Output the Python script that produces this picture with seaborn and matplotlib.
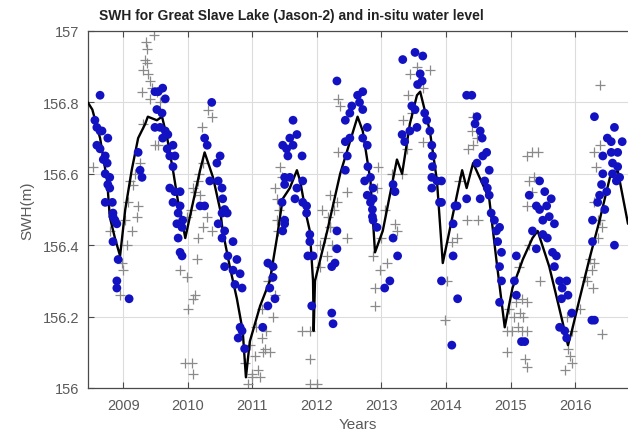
import numpy as np
import pandas as pd
import matplotlib
matplotlib.use("Agg")
import matplotlib.pyplot as plt
import seaborn as sns

# ---------------- data ----------------
# Jason-2 SWH (blue dots)
jason_t = [2008.64, 2008.56, 2008.59, 2008.64, 2008.67, 2008.76, 2008.59, 2008.64, 2008.72, 2008.69,
           2008.75, 2008.72, 2008.79, 2008.76, 2008.79, 2008.72, 2008.83, 2008.84, 2008.87, 2008.84,
           2008.90, 2008.84, 2008.92, 2008.90, 2008.90, 2009.09,
           2009.49, 2009.54, 2009.61, 2009.65, 2009.52, 2009.60, 2009.49, 2009.57, 2009.65, 2009.69,
           2009.61, 2009.68, 2009.77, 2009.72, 2009.80, 2009.77, 2009.23, 2009.26, 2009.29, 2009.72,
           2009.80, 2009.88, 2009.77, 2009.88, 2009.85, 2009.92, 2009.83, 2009.91, 2009.85, 2009.91,
           2009.88,
           2010.37, 2010.26, 2010.30, 2010.50, 2010.45, 2010.47, 2010.34, 2010.53, 2010.54, 2010.61,
           2010.53, 2010.19, 2010.26, 2010.57, 2010.47, 2010.57, 2010.53, 2010.70, 2010.62, 2010.76,
           2010.57, 2010.70, 2010.81, 2010.73, 2010.84, 2010.81, 2010.84, 2010.78, 2010.88,
           2011.24, 2011.32, 2011.32, 2011.27, 2011.35, 2011.24, 2011.16, 2011.47, 2011.50, 2011.63,
           2011.69, 2011.58, 2011.47, 2011.53, 2011.63, 2011.77, 2011.55, 2011.50, 2011.58, 2011.78,
           2011.50, 2011.69, 2011.66, 2011.46, 2011.78, 2011.84, 2011.50, 2011.84, 2011.89, 2011.89,
           2011.86, 2011.94, 2011.92,
           2012.31, 2012.31, 2012.28, 2012.23, 2012.23, 2012.25, 2012.31, 2012.63, 2012.71, 2012.54,
           2012.66, 2012.51, 2012.71, 2012.44, 2012.78, 2012.51, 2012.71, 2012.44, 2012.78, 2012.47,
           2012.79, 2012.44, 2012.83, 2012.74, 2012.87, 2012.78, 2012.87, 2012.86, 2012.87, 2012.83,
           2012.86, 2012.93, 2013.18, 2013.25, 2013.13, 2013.05,
           2013.33, 2013.52, 2013.64, 2013.60, 2013.63, 2013.56, 2013.47, 2013.52, 2013.67, 2013.70,
           2013.75, 2013.55, 2013.44, 2013.32, 2013.36, 2013.78, 2013.79, 2013.79, 2013.78, 2013.86,
           2013.78, 2013.90, 2013.18, 2013.21, 2013.93, 2013.93, 2014.11, 2014.14, 2014.11, 2013.93,
           2014.18, 2014.09,
           2014.32, 2014.40, 2014.48, 2014.45, 2014.53, 2014.56, 2014.63, 2014.57, 2014.48, 2014.67,
           2014.60, 2014.64, 2014.53, 2014.32, 2014.67, 2014.17, 2014.70, 2014.75, 2014.83, 2014.78,
           2014.80, 2014.86, 2014.83, 2014.86, 2014.83, 2015.09, 2015.06, 2015.09, 2015.17, 2015.22,
           2015.45, 2015.53, 2015.29, 2015.63, 2015.40, 2015.56, 2015.45, 2015.60, 2015.68, 2015.50,
           2015.34, 2015.50, 2015.57, 2015.40, 2015.65, 2015.71, 2015.68, 2015.76, 2015.87, 2015.80,
           2015.89, 2015.79, 2015.95, 2015.76, 2015.84, 2015.87,
           2016.30, 2016.61, 2016.50, 2016.56, 2016.73, 2016.43, 2016.56, 2016.66, 2016.58, 2016.66,
           2016.43, 2016.58, 2016.69, 2016.41, 2016.64, 2016.49, 2016.38, 2016.35, 2016.46, 2016.27,
           2016.27, 2016.61, 2016.30, 2016.26]
jason_h = [156.82, 156.75, 156.73, 156.72, 156.72, 156.70, 156.68, 156.67, 156.65, 156.64,
           156.63, 156.60, 156.59, 156.57, 156.56, 156.52, 156.52, 156.49, 156.47, 156.48,
           156.46, 156.41, 156.36, 156.30, 156.28, 156.25,
           156.83, 156.83, 156.84, 156.81, 156.78, 156.77, 156.73, 156.73, 156.72, 156.71,
           156.70, 156.67, 156.68, 156.65, 156.65, 156.62, 156.66, 156.61, 156.59, 156.56,
           156.55, 156.55, 156.52, 156.51, 156.49, 156.47, 156.46, 156.45, 156.42, 156.37,
           156.38,
           156.80, 156.70, 156.68, 156.65, 156.63, 156.58, 156.58, 156.56, 156.53, 156.49,
           156.49, 156.51, 156.51, 156.50, 156.46, 156.44, 156.42, 156.41, 156.37, 156.36,
           156.34, 156.33, 156.32, 156.29, 156.28, 156.17, 156.16, 156.14, 156.11,
           156.35, 156.34, 156.31, 156.28, 156.25, 156.23, 156.17, 156.44, 156.46, 156.75,
           156.71, 156.70, 156.68, 156.67, 156.68, 156.65, 156.65, 156.59, 156.59, 156.58,
           156.57, 156.56, 156.53, 156.52, 156.52, 156.49, 156.47, 156.51, 156.43, 156.41,
           156.37, 156.37, 156.23,
           156.44, 156.39, 156.35, 156.34, 156.21, 156.18, 156.86, 156.82, 156.83, 156.79,
           156.80, 156.77, 156.78, 156.75, 156.73, 156.70, 156.70, 156.69, 156.68, 156.65,
           156.62, 156.61, 156.59, 156.58, 156.56, 156.54, 156.53, 156.50, 156.47, 156.52,
           156.48, 156.45, 156.42, 156.37, 156.30, 156.28,
           156.92, 156.94, 156.93, 156.88, 156.86, 156.85, 156.79, 156.78, 156.77, 156.75,
           156.72, 156.73, 156.72, 156.71, 156.69, 156.68, 156.65, 156.62, 156.59, 156.58,
           156.56, 156.52, 156.57, 156.55, 156.58, 156.52, 156.46, 156.51, 156.37, 156.30,
           156.25, 156.12,
           156.82, 156.82, 156.76, 156.74, 156.72, 156.70, 156.66, 156.65, 156.63, 156.61,
           156.58, 156.56, 156.53, 156.53, 156.54, 156.51, 156.49, 156.47, 156.45, 156.44,
           156.41, 156.38, 156.34, 156.30, 156.24, 156.37, 156.30, 156.26, 156.13, 156.13,
           156.58, 156.55, 156.54, 156.53, 156.51, 156.51, 156.50, 156.48, 156.46, 156.47,
           156.44, 156.43, 156.42, 156.39, 156.38, 156.37, 156.34, 156.30, 156.30, 156.28,
           156.26, 156.25, 156.21, 156.17, 156.16, 156.14,
           156.76, 156.73, 156.70, 156.69, 156.69, 156.65, 156.66, 156.66, 156.63, 156.62,
           156.60, 156.60, 156.59, 156.57, 156.58, 156.55, 156.54, 156.52, 156.50, 156.47,
           156.41, 156.40, 156.19, 156.19]

# gray crosses
cross_t = [2008.53, 2008.79, 2009.13, 2009.06, 2008.98, 2009.00, 2008.95, 2009.21, 2009.23, 2009.10,
           2009.18, 2009.26, 2009.48, 2009.35, 2009.37, 2009.34, 2009.37, 2009.30, 2009.38, 2009.29,
           2009.41, 2009.44, 2009.52, 2009.54, 2009.49, 2009.57, 2009.30, 2009.41,
           2009.96, 2010.06, 2010.08, 2010.00, 2010.08, 2010.11, 2009.88, 2009.99, 2010.14, 2010.16,
           2010.37, 2010.30, 2010.23, 2010.22, 2010.31, 2010.37, 2010.23, 2010.16, 2010.08, 2010.19,
           2009.99,
           2011.16, 2011.27, 2011.08, 2011.00, 2011.32, 2011.35, 2011.30, 2011.39, 2011.47, 2010.96,
           2011.04, 2011.15, 2011.19, 2010.99, 2010.93, 2011.12, 2011.21, 2010.88,
           2011.43, 2011.46, 2011.35, 2011.38, 2011.38, 2011.77, 2011.89, 2011.89, 2011.89, 2012.00,
           2012.08, 2012.17, 2012.20, 2012.12, 2012.16, 2012.04, 2012.47, 2012.23,
           2012.33, 2012.36, 2012.33, 2012.20, 2012.47, 2012.95, 2012.93, 2012.87, 2012.90, 2012.90,
           2012.98, 2013.09, 2013.21, 2013.24, 2013.32, 2013.39, 2013.33, 2013.64, 2013.41, 2013.44,
           2013.55, 2013.64, 2013.75,
           2014.42, 2014.40, 2014.48, 2014.34, 2014.42, 2014.32, 2014.49, 2014.09, 2014.17, 2013.98,
           2014.01,
           2014.94, 2014.95, 2015.09, 2015.14, 2015.06, 2015.19, 2015.11, 2015.25, 2015.22, 2015.25,
           2015.02, 2015.17, 2015.26, 2015.17, 2015.45, 2015.34, 2015.42, 2015.26, 2015.37, 2015.29,
           2015.34, 2015.26,
           2015.89, 2015.92, 2015.84, 2015.95, 2015.87, 2015.95, 2016.18, 2016.26, 2016.27, 2016.30,
           2016.41, 2016.35, 2016.41, 2016.38, 2016.30, 2016.33, 2016.38, 2016.30, 2016.38,
           # crosses lying along the rising limbs of the in-situ curve
           2009.07, 2009.15, 2009.03, 2010.11, 2010.17, 2010.05, 2011.15, 2011.24, 2011.41, 2011.05,
           2012.05, 2012.21, 2012.31, 2012.27, 2013.00, 2013.06, 2013.17, 2014.98, 2015.13, 2015.28,
           2016.07, 2016.15, 2016.23, 2016.35, 2013.48, 2014.20]
cross_h = [156.62, 156.44, 156.44, 156.40, 156.35, 156.33, 156.26, 156.48, 156.51, 156.58,
           156.60, 156.63, 156.99, 156.97, 156.95, 156.92, 156.91, 156.89, 156.88, 156.83,
           156.86, 156.84, 156.83, 156.68, 156.68, 156.80, 156.74, 156.81,
           156.07, 156.07, 156.04, 156.22, 156.25, 156.26, 156.33, 156.31, 156.36, 156.42,
           156.44, 156.48, 156.45, 156.73, 156.78, 156.76, 156.63, 156.58, 156.56, 156.54,
           156.48,
           156.10, 156.10, 156.05, 156.03, 156.20, 156.26, 156.34, 156.44, 156.47, 156.12,
           156.09, 156.14, 156.11, 156.04, 156.01, 156.03, 156.16, 156.07,
           156.62, 156.59, 156.56, 156.53, 156.47, 156.16, 156.16, 156.08, 156.01, 156.01,
           156.50, 156.48, 156.45, 156.42, 156.37, 156.34, 156.42, 156.40,
           156.81, 156.79, 156.66, 156.54, 156.55, 156.62, 156.56, 156.37, 156.28, 156.23,
           156.33, 156.35, 156.46, 156.44, 156.60, 156.67, 156.75, 156.69, 156.82, 156.88,
           156.90, 156.84, 156.89,
           156.76, 156.72, 156.70, 156.67, 156.68, 156.47, 156.47, 156.41, 156.42, 156.19,
           156.30,
           156.16, 156.10, 156.24, 156.21, 156.20, 156.20, 156.17, 156.16, 156.08, 156.06,
           156.16, 156.16, 156.24, 156.25, 156.30, 156.66, 156.66, 156.65, 156.59, 156.58,
           156.55, 156.51,
           156.11, 156.09, 156.05, 156.07, 156.20, 156.16, 156.30, 156.33, 156.28, 156.35,
           156.45, 156.47, 156.15, 156.85, 156.66, 156.62, 156.68, 156.52, 156.47,
           156.52, 156.57, 156.47, 156.55, 156.60, 156.50, 156.22, 156.30, 156.50, 156.17,
           156.40, 156.45, 156.52, 156.50, 156.42, 156.50, 156.60, 156.22, 156.34, 156.40,
           156.22, 156.31, 156.36, 156.42, 156.77, 156.58]

# in-situ water level (black line)
insitu_t = [2008.45, 2008.52, 2008.64, 2008.75, 2008.79, 2008.87, 2008.95, 2009.03, 2009.13, 2009.23,
            2009.34, 2009.38, 2009.52, 2009.60, 2009.68, 2009.77, 2009.85, 2009.91, 2009.96, 2010.08,
            2010.19, 2010.26, 2010.39, 2010.50, 2010.54, 2010.65, 2010.76, 2010.85, 2010.90, 2010.96,
            2011.12, 2011.27, 2011.38, 2011.47, 2011.58, 2011.69, 2011.74, 2011.84, 2011.89, 2011.94,
            2011.95, 2011.97, 2012.16, 2012.36, 2012.63, 2012.71, 2012.83, 2012.90, 2013.02, 2013.24,
            2013.32, 2013.44, 2013.55, 2013.60, 2013.75, 2013.86, 2013.95, 2014.25, 2014.32, 2014.42,
            2014.67, 2014.78, 2014.91, 2015.03, 2015.19, 2015.34, 2015.42, 2015.60, 2015.76, 2015.89,
            2015.95, 2016.07, 2016.22, 2016.38, 2016.54, 2016.66, 2016.82]
insitu_h = [156.80, 156.78, 156.70, 156.58, 156.48, 156.42, 156.37, 156.50, 156.61, 156.70,
            156.74, 156.76, 156.75, 156.76, 156.70, 156.61, 156.52, 156.47, 156.42, 156.52,
            156.61, 156.66, 156.59, 156.50, 156.44, 156.34, 156.25, 156.16, 156.03, 156.13,
            156.23, 156.30, 156.42, 156.53, 156.56, 156.61, 156.58, 156.48, 156.44, 156.30,
            156.16, 156.30, 156.44, 156.60, 156.76, 156.72, 156.58, 156.38, 156.44, 156.64,
            156.60, 156.74, 156.82, 156.83, 156.72, 156.58, 156.35, 156.61, 156.56, 156.63,
            156.53, 156.36, 156.17, 156.28, 156.36, 156.42, 156.44, 156.34, 156.22, 156.12,
            156.16, 156.25, 156.36, 156.47, 156.59, 156.61, 156.46]

year_ticks = [2009, 2010, 2011, 2012, 2013, 2014, 2015, 2016]
level_ticks = [156, 156.2, 156.4, 156.6, 156.8, 157]
level_labels = ["156", "156.2", "156.4", "156.6", "156.8", "157"]

# ---------------- plot ----------------
sns.set_style("white")
plt.rcParams['font.family'] = ['Liberation Sans', 'DejaVu Sans']

fig = plt.figure(figsize=(6.28, 4.39), dpi=100)
ax = fig.add_axes([88/628, 50/439, 1 - 88/628, (389-32)/439])

cross_df = pd.DataFrame({"t": cross_t, "h": cross_h})
jason_df = pd.DataFrame({"t": jason_t, "h": jason_h})
insitu_df = pd.DataFrame({"t": insitu_t, "h": insitu_h})

sns.scatterplot(data=cross_df, x="t", y="h", marker="+", color="#8a8a8a", s=45,
                linewidth=0.9, ax=ax, zorder=2)
sns.lineplot(data=insitu_df, x="t", y="h", sort=False, estimator=None, color="black",
             linewidth=1.7, ax=ax, zorder=3)
sns.scatterplot(data=jason_df, x="t", y="h", marker="o", color="#1212c2", s=40,
                edgecolor="none", ax=ax, zorder=4)

ax.set_xlim(2008.453, 2016.82)
ax.set_ylim(156, 157)
ax.set_xticks(year_ticks)
ax.set_xticklabels([str(y) for y in year_ticks])
ax.set_yticks(level_ticks)
ax.set_yticklabels(level_labels)
ax.grid(True, color="#dcdcdc", linewidth=0.8)
ax.set_axisbelow(True)

for side in ["left", "bottom", "top"]:
    ax.spines[side].set_color("#4a4a4a")
    ax.spines[side].set_linewidth(0.9)
ax.spines["right"].set_visible(False)

ax.tick_params(axis="both", direction="in", length=4, width=0.8, color="#4a4a4a",
               labelsize=10.5, labelcolor="#5a5a5a", top=True, bottom=True, left=True)
ax.tick_params(axis="x", pad=7)
ax.tick_params(axis="y", pad=6)

ax.set_xlabel("Years", fontsize=11, color="#5a5a5a", labelpad=4)
ax.set_ylabel("SWH(m)", fontsize=11, color="#5a5a5a", labelpad=6)

fig.text(291/628, 1 - 16/439, "SWH for Great Slave Lake (Jason-2) and in-situ water level",
         ha="center", va="center", fontsize=10, fontweight="bold", color="#222222")

fig.savefig("out.png", dpi=100)
